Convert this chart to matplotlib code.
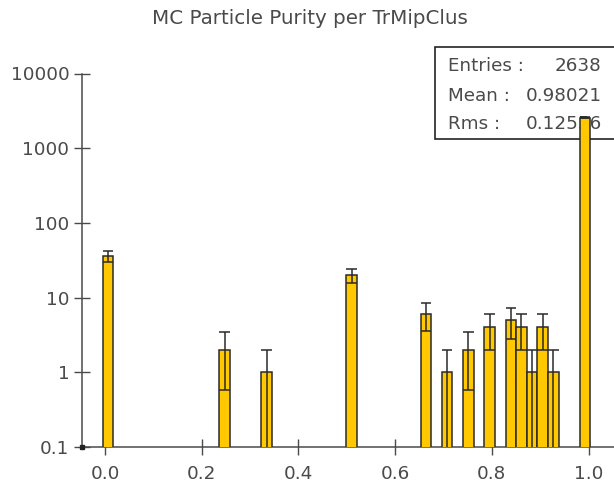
import matplotlib
matplotlib.use("Agg")
import matplotlib.pyplot as plt
from matplotlib.patches import Rectangle
import numpy as np

# histogram contents (bin centres, entries per bin)
purity = [0.006, 0.2475, 0.3343, 0.510, 0.6637, 0.7076, 0.7515, 0.7955,
          0.8394, 0.8613, 0.8833, 0.9053, 0.9272, 0.9931]
counts = [36, 2, 1, 20, 6, 1, 2, 4, 5, 4, 1, 4, 1, 2551]
bin_width = 0.02196

title = "MC Particle Purity per TrMipClus"
stat_names = ["Entries :", "Mean :", "Rms :"]
stat_values = ["2638", "0.98021", "0.12556"]

xticks = [0.0, 0.2, 0.4, 0.6, 0.8, 1.0]
yticks = [0.1, 1, 10, 100, 1000, 10000]

grey = "#4a4a4a"
edge = "#2a2a2a"

fig = plt.figure(figsize=(6.14, 4.91), dpi=100)
ax = fig.add_axes([82/614, 44/491, 1 - 82/614, (447 - 73.5)/491])

x = np.array(purity)
n = np.array(counts, dtype=float)
err = np.sqrt(n)
lo = n - err
hi = n + err

ax.bar(x, n, width=bin_width, color="#ffc800", edgecolor=edge,
       linewidth=1.1, zorder=3)
ax.vlines(x, np.clip(lo, 1e-3, None), hi, color=edge, lw=1.1, zorder=4)
ax.hlines(hi, x - bin_width/2, x + bin_width/2, color=edge, lw=1.1, zorder=4)
keep = lo > 0
ax.hlines(lo[keep], x[keep] - bin_width/2, x[keep] + bin_width/2,
          color=edge, lw=1.1, zorder=4)

ax.set_yscale("log")
ax.set_ylim(0.1, 10000)
ax.set_xlim(-0.0476, 1.0527)

ax.set_yticks(yticks)
ax.set_yticklabels(["%g" % v for v in yticks])
ax.minorticks_off()
ax.set_xticks(xticks)
ax.set_xticklabels(["%.1f" % v for v in xticks])
ax.tick_params(direction="inout", length=12, width=1.0, colors=grey,
               labelsize=13.2)
ax.tick_params(axis="y", pad=3)
ax.tick_params(axis="x", pad=7)

for s in ["top", "right"]:
    ax.spines[s].set_visible(False)
for s in ["left", "bottom"]:
    ax.spines[s].set_color(grey)
    ax.spines[s].set_linewidth(1.1)
ax.plot([0], [0], "s", ms=3, color="#222222", transform=ax.transAxes,
        clip_on=False, zorder=5)

# statistics box, drawn under the bars
ax.add_patch(Rectangle((0.6635, 0.8246), 0.5, 0.2464, transform=ax.transAxes,
                       facecolor="white", edgecolor="#222222", lw=1.2,
                       clip_on=False, zorder=1))
rows = [1.020, 0.9398, 0.8648]
for name, val, yy in zip(stat_names, stat_values, rows):
    ax.text(0.688, yy, name, transform=ax.transAxes, fontsize=13.2,
            color=grey, va="center", ha="left", zorder=2)
    ax.text(0.977, yy, val, transform=ax.transAxes, fontsize=13.2,
            color=grey, va="center", ha="right", zorder=2)

fig.text(310/614, 1 - 19/491, title, ha="center", va="center",
         fontsize=14.3, color=grey)

fig.savefig("out.png", dpi=100)
